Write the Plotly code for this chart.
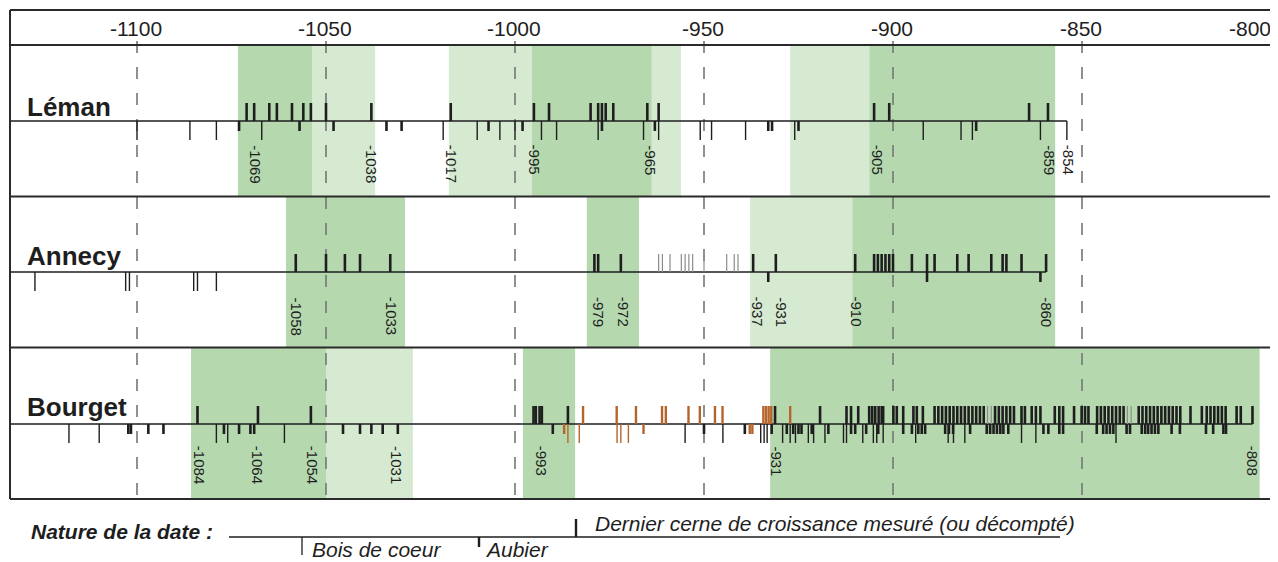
import plotly.graph_objects as go

# ---------------- data (years BC as negative values) ----------------
axis_ticks = [-1100, -1050, -1000, -950, -900, -850, -800]
axis_tick_labels = ["-1100", "-1050", "-1000", "-950", "-900", "-850", "-800"]

lake_names = ["Léman", "Annecy", "Bourget"]

# Léman
leman_last = [-1071, -1069, -1065, -1063, -1059, -1056, -1054, -1050, -1038, -1017,
              -995, -991, -980, -978, -977, -976, -974, -965, -962, -905, -901, -864, -859]
leman_sapwood = [-1073, -1057, -1048, -1034, -1030, -1007, -998, -977, -963, -933, -932, -925, -878]
leman_heartwood = [-1100, -1086, -1079, -1067, -1019, -1010, -1004, -1000, -993, -989, -978,
                   -966, -962, -951, -948, -939, -926, -892, -882, -879, -861, -854]
leman_end = -854
leman_dark_bands = [(-1073.3, -1053.7), (-995.5, -963.8), (-906.3, -857.1)]
leman_light_bands = [(-1053.7, -1037.0), (-1017.5, -995.5), (-963.8, -956.1), (-927.2, -906.3)]
leman_label_text = ["-1069", "-1038", "-1017", "-995", "-965", "-905", "-859", "-854"]
leman_label_year = [-1068.6, -1037.8, -1016.6, -994.6, -964.1, -903.9, -858.5, -853.4]

# Annecy
annecy_last = [-1058, -1050, -1045, -1041, -1033, -979, -978, -972, -937, -931, -910,
               -905, -904, -903, -902, -901, -900, -895, -891, -889, -883, -880, -874,
               -871, -870, -866, -859.5]
annecy_uncertain = [-962, -961, -959, -956, -955, -954, -953, -950, -944, -942, -941]
annecy_sapwood = [-933, -891, -861]
annecy_heartwood = [-1127, -1103, -1102, -1085, -1084, -1079]
annecy_end = -859.5
annecy_dark_bands = [(-1060.6, -1029.1), (-981.0, -967.2), (-910.8, -857.1)]
annecy_light_bands = [(-937.8, -910.8)]
annecy_label_text = ["-1058", "-1033", "-979", "-972", "-937", "-931", "-910", "-860"]
annecy_label_year = [-1057.8, -1032.5, -977.8, -971.1, -935.6, -929.4, -909.4, -859.3]

# Bourget
bourget_last = [-1084, -1068, -1054, -995.1, -994.5, -993.5, -992.9, -986, -931.2, -919.3,
                -912.3, -911.1, -909.2, -906.3, -905.5, -904.7, -903.8, -903.0, -902.6,
                -899.9, -899.0, -897.3, -894.6, -893.7, -892.1,
                -889, -888, -887, -886, -885, -884, -883, -882, -881, -880, -879, -878, -877, -876,
                -873, -872, -871, -870, -869, -868, -866, -865.1, -863.3, -862.2, -861,
                -857.2, -856, -855, -852.1, -850.1, -849.2, -848.3,
                -846, -845, -844, -843, -842, -841, -840, -839,
                -835, -834, -833, -832, -831, -830, -829, -828, -827, -826, -825, -824,
                -821.3, -818.3, -817, -816, -815, -814, -813, -812, -809.1, -808, -804.9]
bourget_uncertain = [-875, -874, -838, -837]
bourget_sapwood = [-1102.3, -1101.6, -1097, -1093, -1077, -1073, -1070, -1069, -1045.5, -1041,
                   -1038, -1035, -1031, -990, -950, -939.2, -932.1, -928.1, -926.4, -925.0,
                   -924.2, -921.5, -917.1, -911.1, -910.0, -907.1, -903.9, -897.3, -895.0,
                   -893.3, -892.4, -891.5, -886.2, -885.2, -884.1, -879.6, -875.2, -874.3,
                   -873.4, -872.5, -871.6, -870.8, -869.5, -860.2, -858.9, -856, -855,
                   -846.1, -844.4, -843.5, -842.6, -841.7, -838.2, -837.3, -834.2, -833.3,
                   -832.5, -831.6, -830.7, -829.8, -826.3, -824.1, -817.2, -815.3, -812.6, -811.9]
bourget_heartwood = [-1118, -1110, -1079, -1076, -1061, -955, -945, -935.0, -934.1, -933.3,
                     -929.2, -927.2, -925.8, -922.4, -921.0, -918.0, -913.1, -912.3, -908.0,
                     -905.2, -904.3, -902.6, -894.0, -885.4, -884.0, -881.0, -866, -862.2, -841]
bourget_o_last = [-982, -973.1, -968, -961.1, -960.1, -954.1, -951.1, -947.1, -945.1,
                  -934.3, -933.6, -932.9, -932.2, -927.2]
bourget_o_sapwood = [-987, -966, -937.9, -937.2]
bourget_o_heartwood = [-986, -983, -973, -972, -970]
bourget_end = -804.9
bourget_dark_bands = [(-1085.7, -1050.0), (-997.9, -984.1), (-932.5, -803.0)]
bourget_light_bands = [(-1050.0, -1027.0)]
bourget_label_text = ["-1084", "-1064", "-1054", "-1031", "-993", "-931", "-808"]
bourget_label_year = [-1083.3, -1067.9, -1053.4, -1031.2, -992.8, -930.8, -804.7]

# ---------------- layout constants ----------------
PAGE_W, PAGE_H = 1278, 562
OFF = 8                      # default page margin of the html body
W, H = PAGE_W - OFF, PAGE_H - OFF
PX_PER_YEAR = 3.78
X0 = -1100 - (137 - OFF) / PX_PER_YEAR
X1 = X0 + W / PX_PER_YEAR
FONT = "Liberation Sans, Arial, sans-serif"
DARK_GREEN = "#b5d8ae"
LIGHT_GREEN = "#d6ead1"
INK = "#1e1e1e"
ORANGE = "#b5652b"
GREY = "#8c8c8c"


def px(xp):
    """page pixel -> paper fraction"""
    return (xp - OFF) / W


panels = [
    dict(name=lake_names[0], top=45, bottom=196.5, base=121, name_y=107, label_top=143,
         last=leman_last, unc=[], sap=leman_sapwood, heart=leman_heartwood,
         olast=[], osap=[], oheart=[], end=leman_end,
         dark=leman_dark_bands, light=leman_light_bands,
         ltext=leman_label_text, lyear=leman_label_year),
    dict(name=lake_names[1], top=196.5, bottom=347.5, base=272, name_y=256, label_top=295,
         last=annecy_last, unc=annecy_uncertain, sap=annecy_sapwood, heart=annecy_heartwood,
         olast=[], osap=[], oheart=[], end=annecy_end,
         dark=annecy_dark_bands, light=annecy_light_bands,
         ltext=annecy_label_text, lyear=annecy_label_year),
    dict(name=lake_names[2], top=347.5, bottom=499, base=424, name_y=407, label_top=444,
         last=bourget_last, unc=bourget_uncertain, sap=bourget_sapwood, heart=bourget_heartwood,
         olast=bourget_o_last, osap=bourget_o_sapwood, oheart=bourget_o_heartwood, end=bourget_end,
         dark=bourget_dark_bands, light=bourget_light_bands,
         ltext=bourget_label_text, lyear=bourget_label_year),
]

UP, SHORT, LONG = -18, 10, 19

fig = go.Figure()
shapes = []
annotations = []


def ticks(years, base, dy, width, color):
    xs, ys = [], []
    for yr in years:
        xs += [yr, yr, None]
        ys += [base, base + dy, None]
    return go.Scatter(x=xs, y=ys, mode="lines", line=dict(color=color, width=width),
                      hoverinfo="skip", showlegend=False)


for p in panels:
    for a, b in p["dark"]:
        shapes.append(dict(type="rect", xref="x", yref="y", x0=a, x1=b, y0=p["top"], y1=p["bottom"],
                           fillcolor=DARK_GREEN, line=dict(width=0), layer="below"))
    for a, b in p["light"]:
        shapes.append(dict(type="rect", xref="x", yref="y", x0=a, x1=b, y0=p["top"], y1=p["bottom"],
                           fillcolor=LIGHT_GREEN, line=dict(width=0), layer="below"))

# dashed grid lines
for t in axis_ticks:
    shapes.append(dict(type="line", xref="x", yref="y", x0=t, x1=t, y0=41, y1=499,
                       line=dict(color="#767676", width=1.6, dash="12px,14px"), layer="below"))

for p in panels:
    b = p["base"]
    fig.add_trace(go.Scatter(x=[X0 + (10 - OFF) / PX_PER_YEAR, p["end"]], y=[b, b], mode="lines",
                             line=dict(color=INK, width=1.5), hoverinfo="skip", showlegend=False))
    fig.add_trace(ticks(p["heart"], b, LONG, 1.4, INK))
    fig.add_trace(ticks(p["sap"], b, SHORT, 2.6, INK))
    fig.add_trace(ticks(p["last"], b, UP, 2.6, INK))
    if p["unc"]:
        fig.add_trace(ticks(p["unc"], b, UP, 1.2, GREY))
    if p["oheart"]:
        fig.add_trace(ticks(p["oheart"], b, LONG, 1.4, ORANGE))
        fig.add_trace(ticks(p["osap"], b, SHORT, 2.4, ORANGE))
        fig.add_trace(ticks(p["olast"], b, UP, 2.4, ORANGE))
    annotations.append(dict(x=px(25), xref="paper", y=p["name_y"], yref="y", text="<b>%s</b>" % p["name"],
                            showarrow=False, xanchor="left", yanchor="middle",
                            font=dict(family=FONT, size=26, color=INK)))
    for txt, yr in zip(p["ltext"], p["lyear"]):
        annotations.append(dict(x=yr, xref="x", y=p["label_top"], yref="y", text=txt, textangle=90,
                                showarrow=False, xanchor="center", yanchor="top",
                                font=dict(family=FONT, size=15, color=INK)))

# top axis labels (the last one is kept inside the frame)
for i, (t, lab) in enumerate(zip(axis_ticks, axis_tick_labels)):
    last = i == len(axis_ticks) - 1
    annotations.append(dict(x=t, xref="x", y=28, yref="y", text=lab, showarrow=False,
                            xanchor="right" if last else "center", xshift=2 if last else -1,
                            yanchor="middle",
                            font=dict(family=FONT, size=21, color=INK)))

# frame lines
frame_col = "#2a2a2a"
for yy in [10, 45, 196.5, 347.5, 499]:
    shapes.append(dict(type="line", xref="paper", yref="y", x0=px(10), x1=1, y0=yy, y1=yy,
                       line=dict(color=frame_col, width=2)))
shapes.append(dict(type="line", xref="paper", yref="y", x0=px(10), x1=px(10), y0=10, y1=499,
                   line=dict(color=frame_col, width=2)))

# legend ("Nature de la date")
leg_y = 537
shapes.append(dict(type="line", xref="paper", yref="y", x0=px(229), x1=px(1060), y0=leg_y, y1=leg_y,
                   line=dict(color=INK, width=1.3)))
shapes.append(dict(type="line", xref="paper", yref="y", x0=px(302), x1=px(302), y0=leg_y, y1=leg_y + 18,
                   line=dict(color=INK, width=1.3)))
shapes.append(dict(type="line", xref="paper", yref="y", x0=px(479), x1=px(479), y0=leg_y, y1=leg_y + 10,
                   line=dict(color=INK, width=2.4)))
shapes.append(dict(type="line", xref="paper", yref="y", x0=px(576), x1=px(576), y0=leg_y - 18, y1=leg_y,
                   line=dict(color=INK, width=2.4)))
annotations += [
    dict(x=px(29), xref="paper", y=531, yref="y", text="<b><i>Nature de la date :</i></b>", showarrow=False,
         xanchor="left", yanchor="middle", font=dict(family=FONT, size=21, color=INK)),
    dict(x=px(311), xref="paper", y=PAGE_H, yref="y", text="<i>Bois de coeur</i>", showarrow=False,
         xanchor="left", yanchor="bottom", borderpad=0, font=dict(family=FONT, size=21, color=INK)),
    dict(x=px(484), xref="paper", y=PAGE_H, yref="y", text="<i>Aubier</i>", showarrow=False,
         xanchor="left", yanchor="bottom", borderpad=0, font=dict(family=FONT, size=21, color=INK)),
    dict(x=px(593), xref="paper", y=523, yref="y", text="<i>Dernier cerne de croissance mesuré (ou décompté)</i>",
         showarrow=False, xanchor="left", yanchor="middle", font=dict(family=FONT, size=21, color=INK)),
]

fig.update_layout(
    width=W, height=H, margin=dict(l=0, r=0, t=0, b=0),
    paper_bgcolor="white", plot_bgcolor="white",
    xaxis=dict(range=[X0, X1], visible=False, fixedrange=True),
    yaxis=dict(range=[PAGE_H, OFF], visible=False, fixedrange=True),
    shapes=shapes, annotations=annotations, showlegend=False,
)

fig.write_html("out.html")
